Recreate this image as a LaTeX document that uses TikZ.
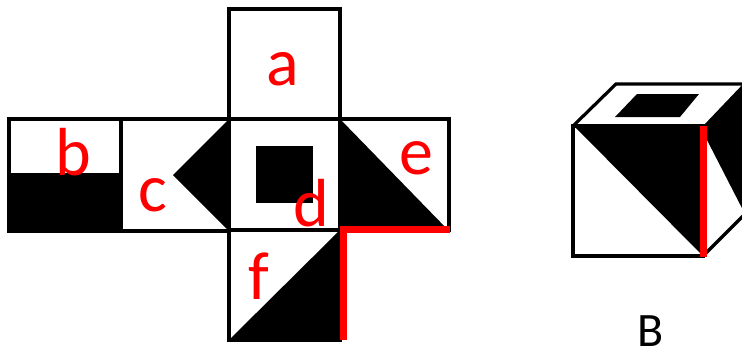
\documentclass[tikz,border=0pt]{standalone}
\usepackage{fontspec}
\setmainfont{Carlito}
\tikzset{
  edge/.style={draw=black,line width=4.4pt,line join=miter},
  thin edge/.style={draw=black,line width=3.2pt},
  ink/.style={fill=black,draw=none},
  redbar/.style={draw=red,line width=7pt},
  lab/.style={text=red,font=\fontsize{68}{68}\selectfont,inner sep=0pt,anchor=base}
}
\begin{document}
\begin{tikzpicture}[x=1pt,y=-1pt]
\useasboundingbox (0,0) rectangle (742,351);
% black fills of the net
\path[ink] (9,173) rectangle (121,231);
\path[ink] (229,119) -- (173,175) -- (229,231) -- cycle;
\path[ink] (256,146) rectangle (313,203);
\path[ink] (340,119) -- (449,231) -- (340,231) -- cycle;
\path[ink] (229,340) -- (340,230) -- (340,340) -- cycle;
% net outlines
\draw[edge] (229,119) rectangle (340,9);
\draw[edge] (9,119) rectangle (121,231);
\draw[edge] (121,119) rectangle (229,231);
\draw[edge] (229,119) rectangle (340,230);
\draw[edge] (340,119) rectangle (449,230);
\draw[edge] (229,230) rectangle (340,340);
\draw[redbar] (450,229) -- (343,229) -- (343,340);
% cube
\begin{scope}
\clip (0,0) rectangle (742,351);
\path[ink] (574,126) -- (703,126) -- (703,256) -- cycle;
\path[ink] (703,126) -- (745,82) -- (745,214) -- (707,140) -- cycle;
\path[ink] (615,117) -- (637,94) -- (699,94) -- (680,117) -- cycle;
\draw[thin edge] (573,126) rectangle (703,256);
\draw[thin edge] (573,126) -- (616,84) -- (745,84);
\draw[thin edge] (703,256) -- (745,214);
\end{scope}
\draw[redbar] (703,126) -- (703,257);
% labels
\node[lab] (la) at (283,85) {a};
\node[lab] (lb) at (73,175) {b};
\node[lab] (lc) at (153,211) {c};
\node[lab] (ld) at (311,226) {d};
\node[lab] (le) at (416,174) {e};
\node[lab] (lf) at (259,299) {f};
\node[text=black,font=\fontsize{48}{48}\selectfont,inner sep=0pt,anchor=base] (lB) at (651,346) {B};
\end{tikzpicture}
\end{document}
